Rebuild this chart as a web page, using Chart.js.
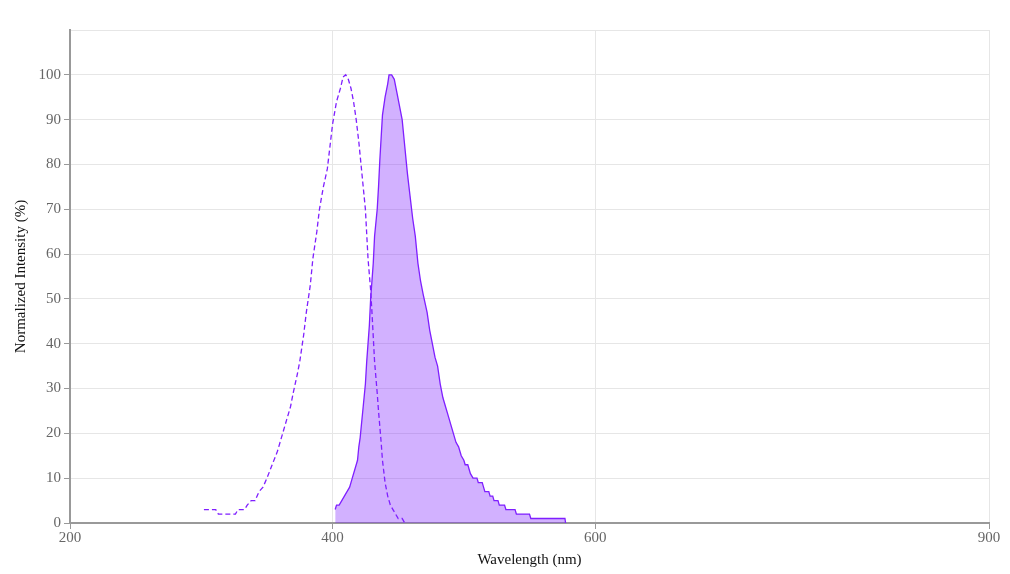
<!DOCTYPE html>
<html>
<head>
<meta charset="utf-8">
<script src="https://cdn.jsdelivr.net/npm/chart.js@4"></script>
<style>
  html, body { margin: 0; padding: 0; background: #fff; }
  #wrap { width: 1010px; height: 574px; }
</style>
</head>
<body>
<div id="wrap"><canvas id="chart"></canvas></div>
<script>
// excitation spectrum (dashed)
const exWavelengths = [302, 311, 313, 326, 328, 333, 335, 338, 341, 344, 347, 350, 354, 358, 362, 365, 368, 370, 373, 375,
  378, 380, 383, 385, 388, 390, 393, 396, 398, 400, 403, 406, 408, 410, 412, 414, 416, 418, 420, 422, 424, 425, 427, 429,
  430, 432, 434, 435, 437, 438, 440, 442, 444, 446, 448, 450, 453, 455];
const exValues = [3, 3, 2, 2, 3, 3, 4, 5, 5, 7, 8, 10, 13, 16, 20, 23, 26, 29, 33, 36,
  42, 47, 53, 59, 65, 70, 75, 79, 84, 89, 94, 97, 99.5, 100, 99, 97, 94, 90, 85, 79, 73, 70, 59, 52,
  47, 36, 29, 25, 18, 14, 9, 6, 4, 3, 2, 1, 1, 0];

// emission spectrum (filled)
const emWavelengths = [402, 403, 405, 407, 409, 411, 413, 415, 417, 419, 420, 421, 422, 423, 425, 426, 428, 429, 431, 432,
  434, 435, 436, 437, 438, 440, 442, 443, 445, 447, 449, 451, 453, 455, 457, 459, 461, 463, 465, 467, 469, 472, 474, 476,
  478, 480, 482, 484, 486, 488, 490, 492, 494, 496, 498, 500, 501, 503, 504, 505, 507, 510, 511, 514, 515, 516, 519, 520,
  522, 523, 526, 527, 531, 532, 539, 540, 550, 551, 577, 577.5];
const emValues = [3, 4, 4, 5, 6, 7, 8, 10, 12, 14, 17, 19, 22, 25, 31, 36, 44, 50, 58, 64,
  70, 75, 81, 86, 91, 95, 98, 100, 100, 99, 96, 93, 90, 84, 78, 73, 68, 64, 58, 54, 51, 47, 43, 40,
  37, 35, 31, 28, 26, 24, 22, 20, 18, 17, 15, 14, 13, 13, 12, 11, 10, 10, 9, 9, 8, 7, 7, 6,
  6, 5, 5, 4, 4, 3, 3, 2, 2, 1, 1, 0];

const xTicks = [200, 400, 600, 900];
const yTicks = [0, 10, 20, 30, 40, 50, 60, 70, 80, 90, 100];

const purple = "#7f1fff";
const font = { family: "'Liberation Serif', 'Times New Roman', serif", size: 15 };

const toPoints = (xs, ys) => xs.map((x, i) => ({ x: x, y: ys[i] }));

new Chart(document.getElementById("chart"), {
  type: "line",
  data: {
    datasets: [
      {
        label: "Excitation",
        data: toPoints(exWavelengths, exValues),
        borderColor: purple,
        borderWidth: 1.3,
        borderDash: [5, 3],
        pointRadius: 0,
        fill: false,
        tension: 0
      },
      {
        label: "Emission",
        data: toPoints(emWavelengths, emValues),
        borderColor: purple,
        borderWidth: 1.3,
        backgroundColor: "rgba(127, 31, 255, 0.35)",
        pointRadius: 0,
        fill: "origin",
        tension: 0
      }
    ]
  },
  options: {
    responsive: true,
    maintainAspectRatio: false,
    animation: false,
    layout: { padding: { top: 30, right: 21, left: 0, bottom: 0 } },
    plugins: {
      legend: { display: false },
      tooltip: { enabled: false }
    },
    scales: {
      x: {
        type: "linear",
        min: 200,
        max: 900,
        afterBuildTicks: (scale) => { scale.ticks = xTicks.map(v => ({ value: v })); },
        afterFit: (scale) => { scale.height = 51; },
        ticks: { color: "#666", font: font, padding: 0, maxRotation: 0 },
        grid: { color: "#e6e6e6", tickLength: 6, tickColor: "#999" },
        border: { color: "#999", width: 2 },
        title: { display: true, text: "Wavelength (nm)", color: "#111", font: font, padding: { top: 2, bottom: 5 } }
      },
      y: {
        min: 0,
        max: 110,
        afterBuildTicks: (scale) => { scale.ticks = yTicks.concat([110]).map(v => ({ value: v })); },
        afterFit: (scale) => { scale.width = 70; },
        ticks: {
          color: "#666",
          font: font,
          padding: 3,
          callback: (v) => (v > 100 ? "" : v)
        },
        grid: {
          color: "#e6e6e6",
          tickLength: 6,
          tickColor: (ctx) => (ctx.tick && ctx.tick.value > 100 ? "rgba(0,0,0,0)" : "#999")
        },
        border: { color: "#999", width: 2 },
        title: { display: true, text: "Normalized Intensity (%)", color: "#111", font: font, padding: { top: 12, bottom: 0 } }
      }
    }
  }
});
</script>
</body>
</html>
